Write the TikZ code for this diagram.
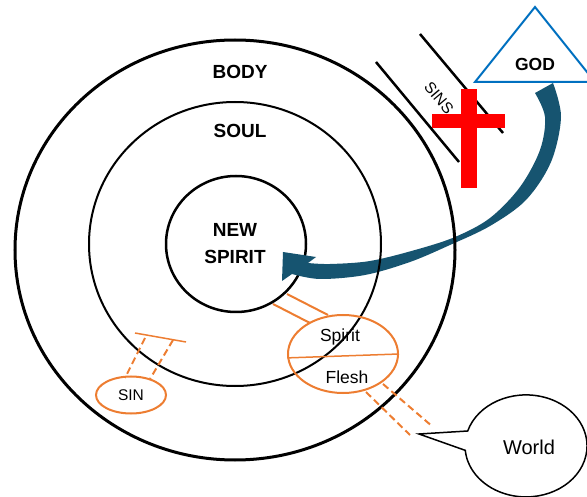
\documentclass[tikz,border=0pt]{standalone}
\usepackage{fontspec}
\setmainfont{Liberation Sans}
\usetikzlibrary{shapes.geometric}
\tikzset{>=latex}
\definecolor{myorange}{RGB}{237, 125, 49}
\definecolor{myblue}{RGB}{0, 112, 192}
\definecolor{myteal}{RGB}{22, 84, 112}
\newcommand{\bigtext}{\fontsize{19}{27}\selectfont\bfseries}
\newcommand{\midtext}{\fontsize{17.5}{21}\selectfont}
\newcommand{\smalltext}{\fontsize{15.5}{18}\selectfont}

\begin{document}
\begin{tikzpicture}[x = 1pt, y = -1pt]

\clip (0, 0) rectangle (587, 497); % page size

% inner circle
\draw[line width = 2.5pt] (236, 244) ellipse [x radius = 70, y radius = 68];

% arrow from GOD
\fill[myteal] plot [smooth, tension = 0.55] coordinates{(553, 83) (561, 117) (551, 162) (526, 200) (490, 226) (450, 245) (410, 262) (365, 275) (320, 279) (292, 274)}
  -- (282, 281) -- (283, 252) -- (316, 257)
  -- plot [smooth, tension = 0.55] coordinates{(308, 263) (330, 264) (370, 261) (415, 250) (455, 237) (490, 218) (520, 187) (540, 150) (545, 117) (535, 93)} -- cycle;

% soul and body
\draw[line width = 2pt] (235, 244) ellipse [x radius = 146, y radius = 142];
\draw[line width = 3pt] (235, 250) ellipse [x radius = 220, y radius = 210];

\node[font = \bigtext] (body) at (240, 72) {BODY};
\node[font = \bigtext] (soul) at (240, 131) {SOUL};
\node[font = \bigtext, align = center] (newspirit) at (235, 244) {NEW\\SPIRIT};

% sins and cross
\draw[line width = 2.5pt] (420, 34) -- (503, 133);
\draw[line width = 2.5pt] (376, 62) -- (459, 162);
\node[rotate = -50, font = \smalltext] (sins) at (439, 98) {SINS};
\fill[red] (461, 89) rectangle (477, 188);
\fill[red] (432, 114) rectangle (505, 128);

% god
\draw[myblue, line width = 2pt, fill = white] (535, 7) -- (475, 82) -- (595, 82) -- cycle;
\node[font = \midtext\bfseries] (god) at (535, 64) {GOD};

% spirit / flesh
\draw[myorange, line width = 2pt] (287, 294) -- (328, 315);
\draw[myorange, line width = 2pt] (273, 304) -- (310, 323);
\node[ellipse, draw = myorange, line width = 2pt, minimum width = 110pt, minimum height = 78pt, inner sep = 0pt] (sf) at (343, 354) {};
\draw[myorange, line width = 1.5pt] (sf.184) -- (sf.east);
\node[font = \midtext] (spirit) at (340, 337) {Spirit};
\node[font = \midtext] (flesh) at (347, 377) {Flesh};

% sin
\draw[myorange, line width = 1.5pt] (135, 333) -- (186, 342);
\draw[myorange, line width = 2pt, dash pattern = on 7pt off 4pt] (145, 338) -- (125, 378);
\draw[myorange, line width = 2pt, dash pattern = on 7pt off 4pt] (173, 340) -- (150, 379);
\node[ellipse, draw = myorange, line width = 2pt, minimum width = 70pt, minimum height = 37pt, inner sep = 0pt, font = \smalltext] (sin) at (131, 395) {SIN};

% world
\draw[myorange, line width = 2pt, dash pattern = on 7pt off 4pt] (383, 384) -- (433, 427);
\draw[myorange, line width = 2pt, dash pattern = on 7pt off 4pt] (366, 392) -- (410, 435);
\draw[line width = 1.5pt] (467.7, 431) arc [start angle = 197, end angle = 535, x radius = 61, y radius = 51] -- (419, 434) -- cycle;
\node[font = \fontsize{20}{24}\selectfont] (world) at (529, 447) {World};

\end{tikzpicture}
\end{document}
